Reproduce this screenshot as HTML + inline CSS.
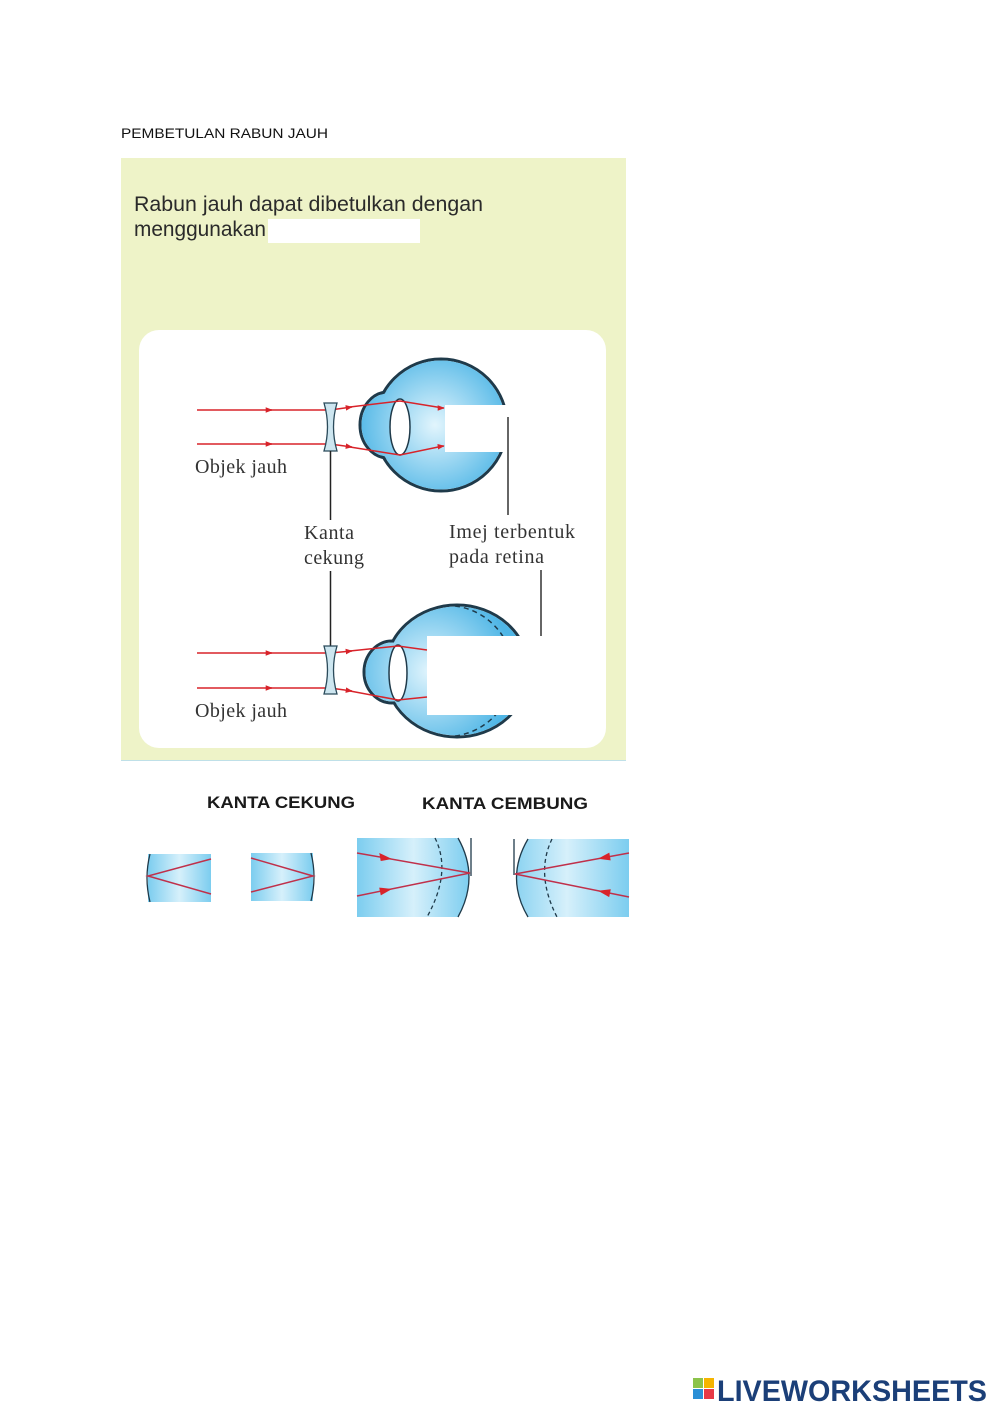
<!DOCTYPE html>
<html><head><meta charset="utf-8"><style>
html,body{margin:0;padding:0;background:#fff;}
svg{display:block}
</style></head><body>
<svg width="1000" height="1414" viewBox="0 0 1000 1414" xmlns="http://www.w3.org/2000/svg">
<defs>
<radialGradient id="g1" gradientUnits="userSpaceOnUse" cx="435" cy="425" r="80">
<stop offset="0" stop-color="#e2f5fd"/><stop offset="1" stop-color="#4fb6e6"/>
</radialGradient>
<radialGradient id="g2" gradientUnits="userSpaceOnUse" cx="430" cy="671" r="85">
<stop offset="0" stop-color="#e2f5fd"/><stop offset="1" stop-color="#4fb6e6"/>
</radialGradient>
<linearGradient id="t" x1="0" y1="0" x2="1" y2="0">
<stop offset="0" stop-color="#7ccdef"/><stop offset="0.5" stop-color="#d6f0fb"/><stop offset="1" stop-color="#7ccdef"/>
</linearGradient>
<clipPath id="c4"><path d="M528,839 Q505,878 528,917 L629,917 L629,839 Z"/></clipPath>
<clipPath id="c3"><path d="M357,838 L458,838 Q480,877 458,917 L357,917 Z"/></clipPath>
<marker id="a" viewBox="0 0 10 10" refX="9" refY="5" markerWidth="7" markerHeight="7" orient="auto" markerUnits="userSpaceOnUse"><path d="M0,1 L10,5 L0,9 Z" fill="#d8232a"/></marker>
</defs>
<text x="121" y="138" font-family="Liberation Sans, sans-serif" font-size="14" fill="#111" textLength="207" lengthAdjust="spacingAndGlyphs">PEMBETULAN RABUN JAUH</text>
<rect x="121" y="158" width="505" height="602" fill="#eef3c8"/>
<text x="134" y="211" font-family="Liberation Sans, sans-serif" font-size="21" fill="#2a2a2a" textLength="349" lengthAdjust="spacingAndGlyphs">Rabun jauh dapat dibetulkan dengan</text>
<text x="134" y="236" font-family="Liberation Sans, sans-serif" font-size="21" fill="#2a2a2a" textLength="132" lengthAdjust="spacingAndGlyphs">menggunakan</text>
<rect x="268" y="219" width="152" height="24" fill="#fff"/>
<rect x="139" y="330" width="467" height="418" rx="20" fill="#fff"/>

<!-- top eye -->
<g stroke="#1f3a4a" stroke-width="3" fill="none">
<circle cx="441" cy="425" r="66"/><ellipse cx="388" cy="425" rx="28" ry="33"/>
</g>
<g fill="url(#g1)"><circle cx="441" cy="425" r="64.5"/><ellipse cx="388" cy="425" rx="26.5" ry="31.5"/></g>
<ellipse cx="400" cy="427" rx="10" ry="28" fill="#fff" stroke="#1f3a4a" stroke-width="1.5"/>
<rect x="445" y="405" width="63" height="47" fill="#fff"/>
<line x1="508" y1="417" x2="508" y2="515" stroke="#333" stroke-width="1.5"/>
<g stroke="#d8232a" stroke-width="1.5" fill="none">
<line x1="197" y1="410" x2="272" y2="410" marker-end="url(#a)"/><line x1="270" y1="410" x2="330" y2="410"/>
<line x1="197" y1="444" x2="272" y2="444" marker-end="url(#a)"/><line x1="270" y1="444" x2="330" y2="444"/>
<line x1="330" y1="410" x2="352" y2="407" marker-end="url(#a)"/><polyline points="350,407 400,401 443,408"/>
<line x1="443" y1="408" x2="444" y2="408" marker-end="url(#a)"/>
<line x1="330" y1="444" x2="352" y2="447" marker-end="url(#a)"/><polyline points="350,447 400,455 443,446"/>
<line x1="440" y1="446.5" x2="444" y2="446" marker-end="url(#a)"/>
</g>
<path d="M324,403 L337,403 Q330,427 337,451 L324,451 Q331,427 324,403 Z" fill="#cde6f0" stroke="#2a4a5a" stroke-width="1.3"/>
<line x1="330.5" y1="451" x2="330.5" y2="520" stroke="#222" stroke-width="1.5"/>
<line x1="330.5" y1="571" x2="330.5" y2="646" stroke="#222" stroke-width="1.5"/>
<g font-family="Liberation Serif, serif" font-size="20" fill="#333" lengthAdjust="spacingAndGlyphs">
<text x="195" y="473" textLength="92">Objek jauh</text>
<text x="304" y="539" textLength="50">Kanta</text><text x="304" y="564" textLength="60">cekung</text>
<text x="449" y="538" textLength="126">Imej terbentuk</text><text x="449" y="563" textLength="95">pada retina</text>
<text x="195" y="717" textLength="92">Objek jauh</text>
</g>
<line x1="541" y1="570" x2="541" y2="636" stroke="#333" stroke-width="1.5"/>

<!-- bottom eye -->
<g stroke="#1f3a4a" stroke-width="3" fill="none">
<ellipse cx="457" cy="671" rx="72" ry="66"/><ellipse cx="392" cy="672" rx="28" ry="31"/>
</g>
<g fill="url(#g2)"><ellipse cx="457" cy="671" rx="70.5" ry="64.5"/><ellipse cx="392" cy="672" rx="26.5" ry="29.5"/></g>
<path d="M455,606 A66,66 0 0 1 505,640" fill="none" stroke="#1f3a4a" stroke-width="1.5" stroke-dasharray="5,4"/>
<path d="M503,705 A66,66 0 0 1 455,736" fill="none" stroke="#1f3a4a" stroke-width="1.5" stroke-dasharray="5,4"/>
<ellipse cx="398" cy="673" rx="9" ry="28" fill="#fff" stroke="#1f3a4a" stroke-width="1.5"/>
<rect x="427" y="636" width="106" height="79" fill="#fff"/>
<g stroke="#d8232a" stroke-width="1.5" fill="none">
<line x1="197" y1="653" x2="272" y2="653" marker-end="url(#a)"/><line x1="270" y1="653" x2="330" y2="653"/>
<line x1="197" y1="688" x2="272" y2="688" marker-end="url(#a)"/><line x1="270" y1="688" x2="330" y2="688"/>
<line x1="330" y1="653" x2="352" y2="651" marker-end="url(#a)"/><polyline points="350,651 398,646 427,650"/>
<line x1="330" y1="688" x2="352" y2="691" marker-end="url(#a)"/><polyline points="350,691 398,700 427,697"/>
</g>
<path d="M324,646 L337,646 Q330,670 337,694 L324,694 Q331,670 324,646 Z" fill="#cde6f0" stroke="#2a4a5a" stroke-width="1.3"/>

<line x1="121" y1="760.5" x2="626" y2="760.5" stroke="#bfe0e8" stroke-width="1"/>
<text x="207" y="808" font-family="Liberation Sans, sans-serif" font-weight="bold" font-size="17" fill="#1a1a1a" textLength="148" lengthAdjust="spacingAndGlyphs">KANTA CEKUNG</text>
<text x="422" y="809" font-family="Liberation Sans, sans-serif" font-weight="bold" font-size="17" fill="#1a1a1a" textLength="166" lengthAdjust="spacingAndGlyphs">KANTA CEMBUNG</text>

<!-- tiles -->
<rect x="148" y="854" width="63" height="48" fill="url(#t)"/>
<path d="M150,854 Q144,878 150,902" fill="none" stroke="#1f3a4a" stroke-width="1.3"/>
<polyline points="211,859 148,876 211,894" fill="none" stroke="#c0304a" stroke-width="1.5"/>
<rect x="251" y="853" width="62" height="48" fill="url(#t)"/>
<path d="M311,853 Q317,877 311,901" fill="none" stroke="#1f3a4a" stroke-width="1.3"/>
<polyline points="251,858 313,876 251,892" fill="none" stroke="#c0304a" stroke-width="1.5"/>

<rect x="357" y="838" width="113" height="79" fill="url(#t)" clip-path="url(#c3)"/>
<path d="M458,838 Q480,877 458,917" fill="none" stroke="#1f3a4a" stroke-width="1.3"/>
<line x1="471" y1="838" x2="471" y2="876" stroke="#1f3a4a" stroke-width="1.3"/>
<path d="M435,838 Q452,872 427,917" fill="none" stroke="#1f3a4a" stroke-width="1.3" stroke-dasharray="4,3"/>
<polyline points="357,853 470,873 357,896" fill="none" stroke="#c0304a" stroke-width="1.5"/>
<polygon points="392,859 380.7,861 379.3,853" fill="#d8232a"/>
<polygon points="392,889 380.8,895.4 379.2,887.6" fill="#d8232a"/>

<rect x="505" y="839" width="124" height="78" fill="url(#t)" clip-path="url(#c4)"/>
<path d="M528,839 Q505,878 528,917" fill="none" stroke="#1f3a4a" stroke-width="1.3"/>
<line x1="514" y1="839" x2="514" y2="875" stroke="#1f3a4a" stroke-width="1.3"/>
<path d="M552,839 Q535,874 557,917" fill="none" stroke="#1f3a4a" stroke-width="1.3" stroke-dasharray="4,3"/>
<polyline points="629,853 515,874 629,897" fill="none" stroke="#c0304a" stroke-width="1.5"/>
<polygon points="598,858.7 610.7,860.4 609.3,852.6" fill="#d8232a"/>
<polygon points="598,890.7 610.8,889.3 609.2,897.1" fill="#d8232a"/>

<!-- logo -->
<rect x="693" y="1378" width="10" height="10" fill="#8bc34a"/><rect x="704" y="1378" width="10" height="10" fill="#f5b400"/>
<rect x="693" y="1389" width="10" height="10" fill="#2a8fd6"/><rect x="704" y="1389" width="10" height="10" fill="#e63946"/>
<text x="717" y="1401" font-family="Liberation Sans, sans-serif" font-weight="bold" font-size="30" fill="#1b3f78" textLength="270" lengthAdjust="spacingAndGlyphs">LIVEWORKSHEETS</text>
</svg>
</body></html>
